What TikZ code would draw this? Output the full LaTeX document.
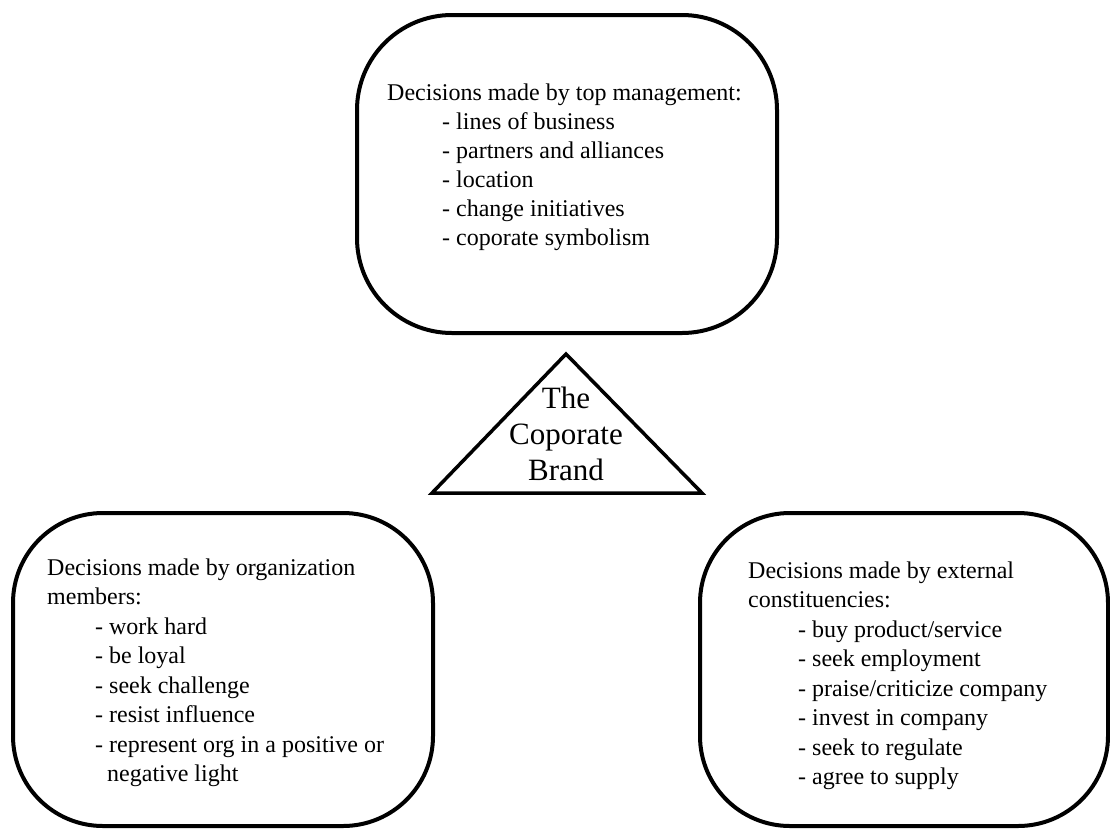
\documentclass[tikz,border=0pt]{standalone}
\usepackage{fontspec}
\setmainfont{Liberation Serif}
\newcommand\Ln[1]{\hbox{#1}}
\newcommand\Ind[2]{\hbox{\hspace*{#1}#2}}
\newcommand\Ctr[1]{\hbox to 200pt{\hfil #1\hfil}}
\begin{document}
\begin{tikzpicture}[x=1pt,y=-1pt,
  box/.style={draw=black, line width=4pt, rectangle, inner sep=0pt},
  txt/.style={inner sep=0pt, anchor=base west, font=\fontsize{24pt}{29pt}\selectfont},
  brandtxt/.style={inner sep=0pt, anchor=base, font=\fontsize{31pt}{36pt}\selectfont}]
\useasboundingbox (0,0) rectangle (1110,828);
\fill[white] (0,0) rectangle (1110,828);
% boxes
\node[box, rounded corners=95pt, minimum width=420pt, minimum height=318pt] (topbox) at (567,174) {};
\node[box, rounded corners=90pt, minimum width=420pt, minimum height=313pt] (leftbox) at (223,669.5) {};
\node[box, rounded corners=90pt, minimum width=408pt, minimum height=313pt] (rightbox) at (904,669.5) {};
% triangle
\coordinate (apex) at (566,354);
\coordinate (bl) at (432,493);
\coordinate (br) at (702,493);
\draw[line width=3.5pt, line join=miter] (apex) -- (bl) -- (br) -- cycle;
% texts
\node[txt] (toptext) at (387,100) {\vtop{\baselineskip=29pt
  \Ln{Decisions made by top management:}
  \Ind{55pt}{- lines of business}
  \Ind{55pt}{- partners and alliances}
  \Ind{55pt}{- location}
  \Ind{55pt}{- change initiatives}
  \Ind{55pt}{- coporate symbolism}}};
\node[txt] (lefttext) at (47,575) {\vtop{\baselineskip=29.5pt
  \Ln{Decisions made by organization}
  \Ln{members:}
  \Ind{48pt}{- work hard}
  \Ind{48pt}{- be loyal}
  \Ind{48pt}{- seek challenge}
  \Ind{48pt}{- resist influence}
  \Ind{48pt}{- represent org in a positive or}
  \Ind{60pt}{negative light}}};
\node[txt] (righttext) at (748,578) {\vtop{\baselineskip=29.5pt
  \Ln{Decisions made by external}
  \Ln{constituencies:}
  \Ind{50pt}{- buy product/service}
  \Ind{50pt}{- seek employment}
  \Ind{50pt}{- praise/criticize company}
  \Ind{50pt}{- invest in company}
  \Ind{50pt}{- seek to regulate}
  \Ind{50pt}{- agree to supply}}};
\node[brandtxt] (brand) at (566,408) {\vtop{\baselineskip=36pt
  \Ctr{The}
  \Ctr{Coporate}
  \Ctr{Brand}}};
\end{tikzpicture}
\end{document}
